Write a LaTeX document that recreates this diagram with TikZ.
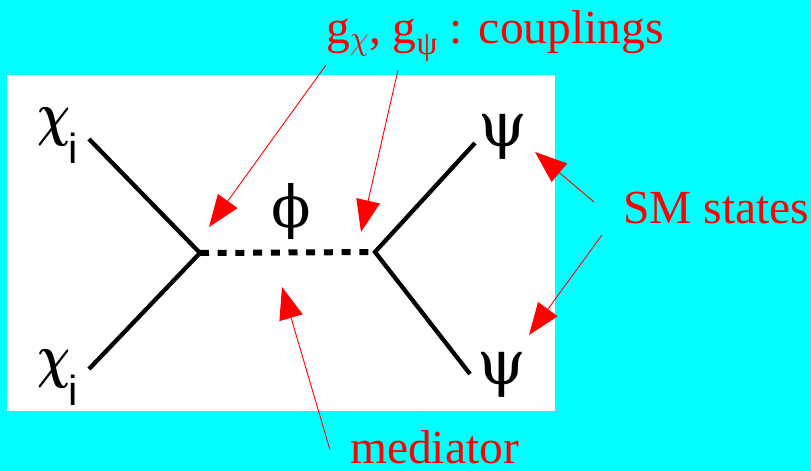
\documentclass[tikz,border=0pt]{standalone}
\usepackage{fontspec}
\setmainfont{Liberation Serif}
\setsansfont{Liberation Sans}
\newfontfamily\greekserif{DejaVu Serif}
\usetikzlibrary{arrows.meta}
\definecolor{bgcyan}{RGB}{0,255,255}
\definecolor{lblred}{RGB}{255,0,0}
\tikzset{
  prop/.style={line width=4.3pt, black},
  medline/.style={line width=6pt, black, dash pattern=on 9pt off 8.7pt},
  pointer/.style={lblred, line width=0.9pt, -{Triangle[length=32pt,width=24pt]}},
  redlbl/.style={text=lblred, font=\fontsize{47.5}{50}\selectfont, inner sep=0pt},
  psilbl/.style={font=\greekserif\fontsize{62}{66}\selectfont, inner sep=0pt},
  philbl/.style={font=\greekserif\fontsize{58}{62}\selectfont, inner sep=0pt},
  chilbl/.style={inner sep=0pt},
  subilbl/.style={font=\sffamily\fontsize{42}{44}\selectfont, inner sep=0pt},
}
\newcommand{\chiglyph}{{\fontsize{10}{12}\selectfont\boldmath\scalebox{4.6}[6.0]{$\chi$}}}
\newcommand{\chisub}{{\fontsize{10}{12}\selectfont\scalebox{3.0}[3.4]{$\chi$}}}
\begin{document}
\begin{tikzpicture}[x=1pt,y=-1pt]
\useasboundingbox (0,0) rectangle (811,471);
\fill[bgcyan] (0,0) rectangle (811,471);
\fill[white] (7,75) rectangle (555,411);
% vertices and leg ends
\coordinate (vL) at (200,253);
\coordinate (vR) at (375,252);
\coordinate (eUL) at (89,139);
\coordinate (eLL) at (89,369);
\coordinate (eUR) at (475,143);
\coordinate (eLR) at (470,374);
\draw[prop] (eUL) -- (vL) -- (eLL);
\draw[prop] (eUR) -- (vR) -- (eLR);
\draw[medline] (vL) -- (vR);
% black labels
\node[chilbl, anchor=base west] (chiU) at (37,134) {\chiglyph};
\node[subilbl, anchor=base west] (iU) at (68,163) {i};
\node[chilbl, anchor=base west] (chiL) at (37,376) {\chiglyph};
\node[subilbl, anchor=base west] (iL) at (68,405) {i};
\node[psilbl, anchor=base west] (psiU) at (478,146) {ψ};
\node[psilbl, anchor=base west] (psiL) at (477,384) {ψ};
\node[philbl, anchor=base west] (phi) at (271,227) {ϕ};
% red labels
\node[redlbl, anchor=base west] (coup) at (326,43) {g\textsubscript{\chisub}, g\textsubscript{ψ} : couplings};
\node[redlbl, anchor=base west] (sm) at (623,223) {SM states};
\node[redlbl, anchor=base west] (med) at (350,463) {mediator};
% pointer start points
\coordinate (c1) at (326,65);
\coordinate (c2) at (398,70);
\coordinate (s1) at (594,202);
\coordinate (s2) at (602,235);
\coordinate (m1) at (330,450);
% pointer tips
\coordinate (t1) at (209,227);
\coordinate (t2) at (361,232);
\coordinate (t3) at (535,152);
\coordinate (t4) at (529,335);
\coordinate (t5) at (282,287);
\draw[pointer] (c1) -- (t1);
\draw[pointer] (c2) -- (t2);
\draw[pointer] (s1) -- (t3);
\draw[pointer] (s2) -- (t4);
\draw[pointer] (m1) -- (t5);
\end{tikzpicture}
\end{document}
